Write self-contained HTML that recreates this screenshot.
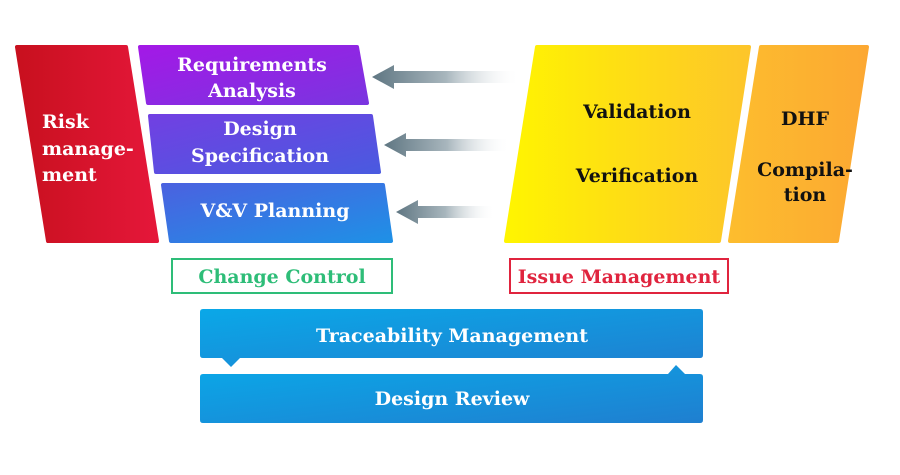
<!DOCTYPE html>
<html><head><meta charset="utf-8"><style>
html,body{margin:0;padding:0;background:#fff;}
svg text{font-family:"DejaVu Serif","Liberation Serif",serif;font-weight:bold;}
</style></head><body>
<svg width="900" height="470" viewBox="0 0 900 470" xmlns="http://www.w3.org/2000/svg">
<defs>
<linearGradient id="red" x1="0" x2="1"><stop offset="0" stop-color="#c8101e"/><stop offset="1" stop-color="#e5173a"/></linearGradient>
<linearGradient id="pur" x1="0" y1="0" x2="1" y2="1"><stop offset="0" stop-color="#a319e6"/><stop offset="1" stop-color="#7a35e0"/></linearGradient>
<linearGradient id="ind" x1="0" y1="0" x2="1" y2="1"><stop offset="0" stop-color="#7140e2"/><stop offset="1" stop-color="#4a5ae0"/></linearGradient>
<linearGradient id="blu" x1="0" y1="0" x2="1" y2="1"><stop offset="0" stop-color="#4a62e0"/><stop offset="1" stop-color="#1f90e6"/></linearGradient>
<linearGradient id="yel" x1="0" x2="1"><stop offset="0" stop-color="#fff500"/><stop offset="1" stop-color="#fdc52a"/></linearGradient>
<linearGradient id="org" x1="0" x2="1"><stop offset="0" stop-color="#fdbd2e"/><stop offset="1" stop-color="#fca832"/></linearGradient>
<linearGradient id="arr" x1="0" x2="1"><stop offset="0" stop-color="#5f7682"/><stop offset="0.5" stop-color="#a8b6bd"/><stop offset="1" stop-color="#ffffff" stop-opacity="0"/></linearGradient>
<linearGradient id="tb" x1="0" y1="0" x2="1" y2="1"><stop offset="0" stop-color="#0aa8e8"/><stop offset="1" stop-color="#1f7fd0"/></linearGradient>
</defs>
<g stroke-linejoin="round" stroke-width="4">
<polygon points="17,47 126,47 157,241 48,241" fill="url(#red)" stroke="url(#red)"/>
<polygon points="140,47 357,47 367,103 148,103" fill="url(#pur)" stroke="url(#pur)"/>
<polygon points="150,116 371,116 379,172 156,172" fill="url(#ind)" stroke="url(#ind)"/>
<polygon points="163,185 383,185 391,241 171,241" fill="url(#blu)" stroke="url(#blu)"/>
<polygon points="537,47 749,47 719,241 506,241" fill="url(#yel)" stroke="url(#yel)"/>
<polygon points="761,47 867,47 837,241 730,241" fill="url(#org)" stroke="url(#org)"/>
</g>
<polygon points="372,77 394,65 394,71 520,71 520,83 394,83 394,89" fill="url(#arr)"/>
<polygon points="384,145 406,133 406,139 510,139 510,151 406,151 406,157" fill="url(#arr)"/>
<polygon points="396,212 418,200 418,206 495,206 495,218 418,218 418,224" fill="url(#arr)"/>
<rect x="172" y="259" width="220" height="34" fill="#fff" stroke="#2ebd78" stroke-width="2"/>
<rect x="510" y="259" width="218" height="34" fill="#fff" stroke="#e0243e" stroke-width="2"/>
<path d="M203,309 H700 Q703,309 703,312 V355 Q703,358 700,358 H240 L231,367 L222,358 H203 Q200,358 200,355 V312 Q200,309 203,309Z" fill="url(#tb)"/>
<path d="M203,374 H668 L676,365 L685,374 H700 Q703,374 703,377 V420 Q703,423 700,423 H203 Q200,423 200,420 V377 Q200,374 203,374Z" fill="url(#tb)"/>
<g fill="#fff" font-size="19">
<text x="42" y="128">Risk</text>
<text x="42" y="155">manage-</text>
<text x="42" y="181">ment</text>
<text x="252" y="71" text-anchor="middle">Requirements</text>
<text x="252" y="97" text-anchor="middle">Analysis</text>
<text x="260" y="135" text-anchor="middle">Design</text>
<text x="260" y="162" text-anchor="middle">Specification</text>
<text x="275" y="217" text-anchor="middle">V&amp;V Planning</text>
<text x="452" y="342" text-anchor="middle">Traceability Management</text>
<text x="452" y="405" text-anchor="middle">Design Review</text>
</g>
<g fill="#111" font-size="19" text-anchor="middle">
<text x="637" y="118">Validation</text>
<text x="637" y="182">Verification</text>
<text x="805" y="125">DHF</text>
<text x="805" y="176">Compila-</text>
<text x="805" y="201">tion</text>
</g>
<text x="282" y="283" font-size="19" fill="#2ebd78" text-anchor="middle">Change Control</text>
<text x="619" y="283" font-size="19" fill="#e0243e" text-anchor="middle">Issue Management</text>
</svg>
</body></html>
